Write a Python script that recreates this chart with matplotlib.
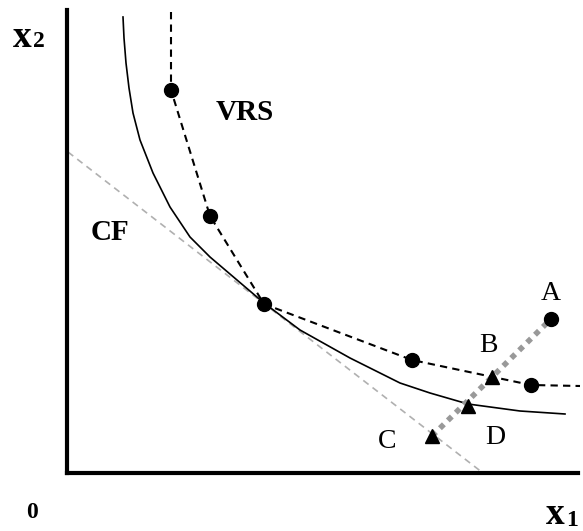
import matplotlib
matplotlib.use("Agg")
import matplotlib.pyplot as plt

plt.rcParams['font.family'] = ['Liberation Serif', 'DejaVu Serif']

# isoquant (CRS frontier, solid)
iso_x = [56, 57, 59, 62, 66, 73, 86, 103, 123, 143, 197, 233, 283, 333, 363, 401, 453, 498]
iso_y = [456, 435, 410, 385, 360, 333, 300, 266, 236, 216, 170, 143, 115, 90, 80, 69, 62, 59]

# VRS piecewise frontier (dashed)
vrs_x = [104, 104, 143, 197, 345, 464, 513]
vrs_y = [461, 383, 257, 169, 113, 88, 87]

# observed DMUs (filled circles)
dmu_x = [104, 143, 197, 345, 464, 484]
dmu_y = [383, 257, 169, 113, 88, 154]

# projections B, D, C (triangles)
proj_x = [425, 401, 365]
proj_y = [96, 67, 37]

# ray from C to A
ray_x = [365, 484]
ray_y = [37, 154]

# cost frontier line CF
cf_x = [1, 416]
cf_y = [321, 0]

point_labels = ['A', 'B', 'C', 'D']
label_x = [484, 421, 320, 428]
label_y = [180, 128, 32, 36]

fig = plt.figure(figsize=(5.83, 5.31), dpi=100)
ax = fig.add_axes([67 / 583, 58 / 531, 511 / 583, 463 / 531])
ax.set_xlim(0, 511)
ax.set_ylim(0, 463)

ax.plot(cf_x, cf_y, color='#b0b0b0', lw=1.2, ls=(0, (4, 3)))
ax.plot(iso_x, iso_y, color='black', lw=1.2)
ax.plot(vrs_x, vrs_y, color='black', lw=1.5, ls=(0, (3.5, 2.5)), clip_on=False)
ax.plot(ray_x, ray_y, color='#999999', lw=4, ls=(0, (1, 1)))
ax.plot(dmu_x, dmu_y, 'o', color='black', ms=10, clip_on=False)
ax.plot(proj_x, proj_y, '^', color='black', ms=10)

for lab, lx, ly in zip(point_labels, label_x, label_y):
    ax.text(lx, ly, lab, fontsize=20, ha='center', va='center')

ax.text(178, 361, 'VRS', fontsize=21, fontweight='bold', ha='center', va='center')
ax.text(43, 241, 'CF', fontsize=21, fontweight='bold', ha='center', va='center')

# axis labels outside the frame
ax.text(-54, 426, 'x', fontsize=27, fontweight='bold', va='baseline', clip_on=False)
ax.text(-34, 426, '2', fontsize=17, fontweight='bold', va='baseline', clip_on=False)
ax.text(-35, -40, '0', fontsize=17, fontweight='bold', ha='center', va='center', clip_on=False)
ax.text(479, -51, 'x', fontsize=27, fontweight='bold', va='baseline', clip_on=False)
ax.text(499, -53, '1', fontsize=17, fontweight='bold', va='baseline', clip_on=False)

for side in ['top', 'right']:
    ax.spines[side].set_visible(False)
for side in ['left', 'bottom']:
    ax.spines[side].set_linewidth(3)
ax.set_xticks([])
ax.set_yticks([])

fig.savefig('out.png', dpi=100)
